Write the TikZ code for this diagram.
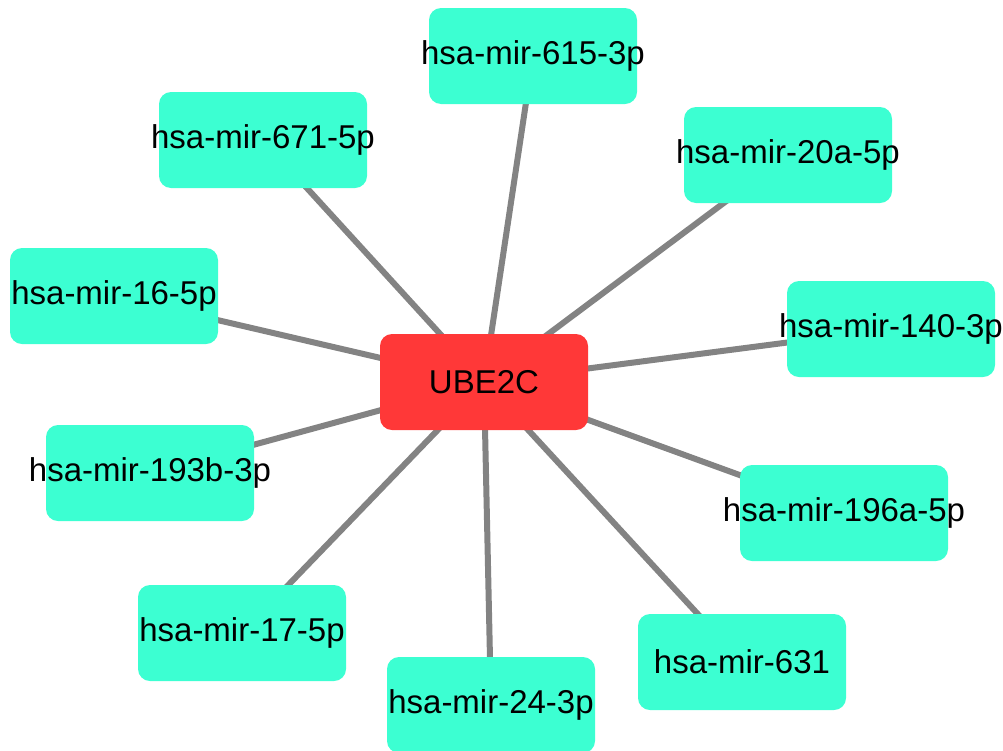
\documentclass[tikz,border=0pt]{standalone}
\usepackage{fontspec}
\setmainfont{Liberation Sans}
\usetikzlibrary{backgrounds}
\definecolor{mirfill}{HTML}{3CFFD2}
\definecolor{genefill}{HTML}{FF3838}
\definecolor{edgegray}{HTML}{838383}
% labels may run past the box edges, so they take no width of their own
\newcommand{\lbl}[1]{\makebox[0pt][c]{#1}}
\tikzset{
  box/.style={rectangle, rounded corners=12pt, minimum width=208pt,
    minimum height=96pt, inner sep=0pt,
    font=\fontsize{33}{39}\selectfont, text=black},
  mirna/.style={box, fill=mirfill},
  gene/.style={box, fill=genefill},
  link/.style={draw=edgegray, line width=6pt}
}
\begin{document}
\begin{tikzpicture}[x=1pt,y=-1pt]
  \useasboundingbox (0,0) rectangle (1003,750);
  \node[gene]  (ube)  at (484,382) {\lbl{UBE2C}};
  \node[mirna] (m615) at (533,56)  {\lbl{hsa-mir-615-3p}};
  \node[mirna] (m671) at (263,140) {\lbl{hsa-mir-671-5p}};
  \node[mirna] (m20a) at (788,155) {\lbl{hsa-mir-20a-5p}};
  \node[mirna] (m16)  at (114,296) {\lbl{hsa-mir-16-5p}};
  \node[mirna] (m140) at (891,329) {\lbl{hsa-mir-140-3p}};
  \node[mirna] (m193) at (150,473) {\lbl{hsa-mir-193b-3p}};
  \node[mirna] (m196) at (844,513) {\lbl{hsa-mir-196a-5p}};
  \node[mirna] (m17)  at (242,633) {\lbl{hsa-mir-17-5p}};
  \node[mirna] (m631) at (742,662) {\lbl{hsa-mir-631}};
  \node[mirna] (m24)  at (491,705) {\lbl{hsa-mir-24-3p}};
  \begin{scope}[on background layer]
    \foreach \m in {m615,m671,m20a,m16,m140,m193,m196,m17,m631,m24}
      \draw[link] (ube.center) -- (\m.center);
  \end{scope}
\end{tikzpicture}
\end{document}
